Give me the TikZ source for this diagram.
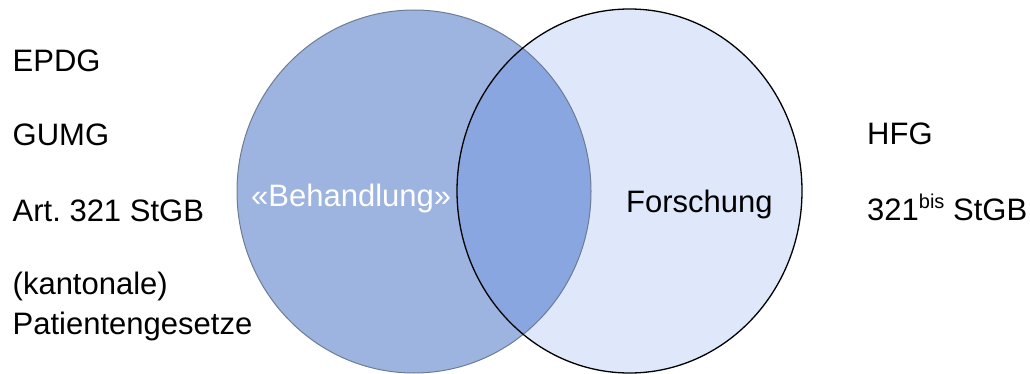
\documentclass[tikz,border=0pt]{standalone}
\usepackage{fontspec}
\setmainfont{Liberation Sans}
\frenchspacing
\definecolor{leftfill}{HTML}{9DB3E0}
\definecolor{overlapfill}{HTML}{8AA6E0}
\definecolor{rightfill}{HTML}{DFE7FB}
\definecolor{leftstroke}{HTML}{6E7C92}
\begin{document}
\begin{tikzpicture}[x=1pt,y=-1pt,
  lbl/.style={font=\fontsize{31}{36}\selectfont, inner sep=0pt, anchor=base west}]
\useasboundingbox (0,0) rectangle (1030,374);
% fills
\path[fill=rightfill] (629.5,191) ellipse [x radius=172.5, y radius=182];
\path[fill=leftfill] (414,191.5) ellipse [x radius=177, y radius=181.5];
\begin{scope}
  \clip (629.5,191) ellipse [x radius=172.5, y radius=182];
  \path[fill=overlapfill] (414,191.5) ellipse [x radius=177, y radius=181.5];
\end{scope}
% outlines
\draw[leftstroke, line width=1pt] (414,191.5) ellipse [x radius=177, y radius=181.5];
\draw[black, line width=1.3pt] (629.5,191) ellipse [x radius=172.5, y radius=182];
% circle labels
\node[lbl, text=white] (behandlung) at (251,206) {«Behandlung»};
\node[lbl] (forschung) at (626,212) {Forschung};
% left texts
\node[lbl] (epdg) at (12.5,72) {EPDG};
\node[lbl] (gumg) at (12.5,146) {GUMG};
\node[lbl] (art) at (12.5,222) {Art.\ 321 StGB};
\node[lbl] (kant) at (12.5,294) {(kantonale)};
\node[lbl] (pat) at (12.5,334) {Patientengesetze};
% right texts
\node[lbl] (hfg) at (867,145) {HFG};
\node[lbl] (bis) at (867,220) {321\raisebox{12pt}{\fontsize{20}{24}\selectfont bis} StGB};
\end{tikzpicture}
\end{document}
